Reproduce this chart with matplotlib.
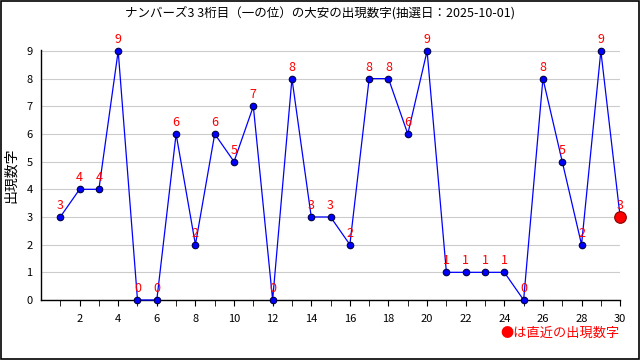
import matplotlib
matplotlib.use("Agg")
import matplotlib.pyplot as plt
from matplotlib.patches import Rectangle

plt.rcParams['font.family'] = ['Noto Sans CJK JP', 'DejaVu Sans']

draws = list(range(1, 31))
values = [3, 4, 4, 9, 0, 0, 6, 2, 6, 5, 7, 0, 8, 3, 3, 2, 8, 8, 6, 9, 1, 1, 1, 1, 0, 8, 5, 2, 9, 3]
title = "ナンバーズ3 3桁目（一の位）の大安の出現数字(抽選日：2025-10-01)"
ylabel = "出現数字"
legend_text = "●は直近の出現数字"

fig = plt.figure(figsize=(6.4, 3.6), dpi=100)
ax = fig.add_axes([0.064, 0.1667, 0.905, 0.6956])

ax.plot(draws, values, color='blue', lw=0.9, zorder=3, clip_on=False)
ax.scatter(draws[:-1], values[:-1], s=22, color='blue', edgecolors='#000044', linewidths=0.8, zorder=4, clip_on=False)
ax.scatter(draws[-1:], values[-1:], s=70, color='red', edgecolors='#880000', linewidths=0.8, zorder=5, clip_on=False)
for x, v in zip(draws, values):
    ax.text(x, v + 0.18, str(v), color='red', ha='center', va='bottom', fontsize=9, zorder=6, clip_on=False)

ax.set_xlim(0, 30)
ax.set_ylim(0, 9.05)
ax.set_yticks(range(0, 10))
ax.set_xticks(range(2, 31, 2))
ax.set_xticks(range(1, 31), minor=True)
ax.tick_params(axis='x', which='both', direction='out', length=4, labelsize=8, pad=6)
ax.tick_params(axis='y', length=0, labelsize=8, pad=6)
ax.grid(axis='y', color='#cccccc', lw=0.8, zorder=0)
for s in ['top', 'right']:
    ax.spines[s].set_visible(False)
ax.spines['left'].set_linewidth(1.0)
ax.spines['bottom'].set_linewidth(1.0)

ax.set_ylabel(ylabel, fontsize=10)
ax.yaxis.set_label_coords(-0.04, 0.5)
fig.text(0.5, 0.965, title, ha='center', va='center', fontsize=9)
fig.text(0.968, 0.075, legend_text, ha='right', va='center', fontsize=9.5, color='red')

fig.patches.append(Rectangle((0.001, 0.002), 0.997, 0.995, transform=fig.transFigure,
                             fill=False, edgecolor='black', lw=1.2))

fig.savefig('out.png', dpi=100)
